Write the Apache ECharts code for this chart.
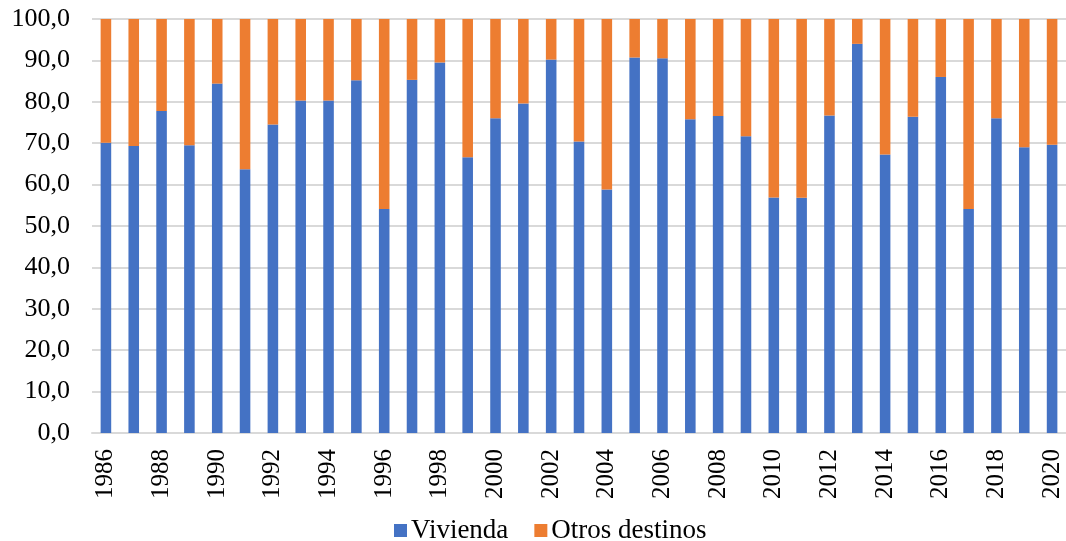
<!DOCTYPE html>
<html>
<head>
<meta charset="utf-8">
<script src="https://cdn.jsdelivr.net/npm/echarts@6/dist/echarts.min.js"></script>
<style>
  html, body { margin: 0; padding: 0; background: #fff; }
  #chart { width: 1066px; height: 541px; }
</style>
</head>
<body>
<div id="chart"></div>
<script>
const years = ['1986', '1987', '1988', '1989', '1990', '1991', '1992', '1993', '1994', '1995',
  '1996', '1997', '1998', '1999', '2000', '2001', '2002', '2003', '2004', '2005',
  '2006', '2007', '2008', '2009', '2010', '2011', '2012', '2013', '2014', '2015',
  '2016', '2017', '2018', '2019', '2020']

const vivienda = [70.1, 69.3, 77.8, 69.5, 84.4, 63.7, 74.5, 80.3, 80.3, 85.2,
  54.1, 85.3, 89.5, 66.6, 76.0, 79.6, 90.2, 70.4, 58.8, 90.7,
  90.5, 75.8, 76.6, 71.7, 56.9, 56.8, 76.7, 94.0, 67.3, 76.4,
  86.0, 54.1, 76.0, 69.0, 69.6]

const otrosDestinos = [29.9, 30.7, 22.2, 30.5, 15.6, 36.3, 25.5, 19.7, 19.7, 14.8,
  45.9, 14.7, 10.5, 33.4, 24.0, 20.4, 9.8, 29.6, 41.2, 9.3,
  9.5, 24.2, 23.4, 28.3, 43.1, 43.2, 23.3, 6.0, 32.7, 23.6,
  14.0, 45.9, 24.0, 31.0, 30.4]

const chart = echarts.init(document.getElementById('chart'))
const font = '"Liberation Serif", "Times New Roman", serif'

chart.setOption({
  animation: false,
  backgroundColor: '#ffffff',
  textStyle: { fontFamily: font },
  grid: { left: 92, right: 0, top: 19, bottom: 108 },
  legend: {
    left: 389,
    top: 512,
    itemWidth: 13,
    itemHeight: 13,
    itemGap: 26,
    icon: 'rect',
    textStyle: { fontFamily: font, fontSize: 27, color: '#000', padding: [0, 0, 0, -1] },
    data: ['Vivienda', 'Otros destinos']
  },
  xAxis: {
    type: 'category',
    data: years,
    axisTick: { show: false },
    axisLine: { lineStyle: { color: '#d9d9d9', width: 2 } },
    axisLabel: {
      interval: 1,
      rotate: 90,
      margin: 16,
      color: '#000',
      fontFamily: font,
      fontSize: 25
    }
  },
  yAxis: {
    type: 'value',
    min: 0,
    max: 100,
    interval: 10,
    axisLine: { show: false },
    axisTick: { show: false },
    splitLine: { lineStyle: { color: '#d9d9d9', width: 2 } },
    axisLabel: {
      margin: 22,
      color: '#000',
      fontFamily: font,
      fontSize: 26,
      formatter: (v) => v.toFixed(1).replace('.', ',')
    }
  },
  series: [
    {
      name: 'Vivienda',
      type: 'bar',
      stack: 'total',
      barWidth: '38%',
      data: vivienda,
      itemStyle: { color: '#4472C4' }
    },
    {
      name: 'Otros destinos',
      type: 'bar',
      stack: 'total',
      barWidth: '38%',
      data: otrosDestinos,
      itemStyle: { color: '#ED7D31' }
    }
  ]
})
</script>
</body>
</html>
